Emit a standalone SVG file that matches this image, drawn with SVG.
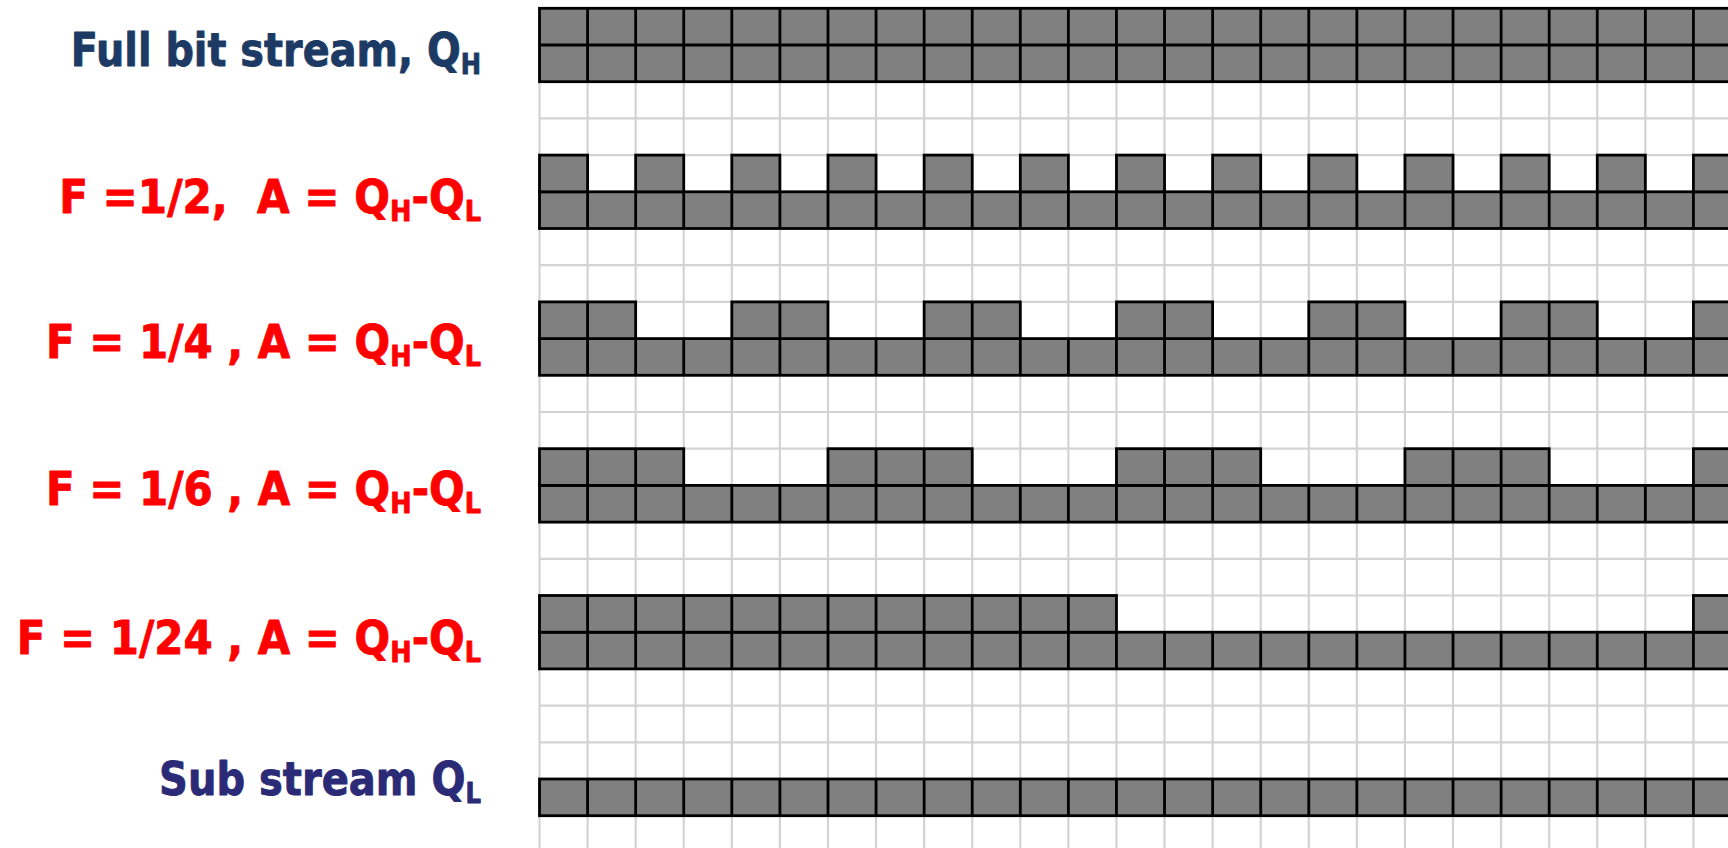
<svg xmlns="http://www.w3.org/2000/svg" xmlns:xlink="http://www.w3.org/1999/xlink" width="1728" height="848" viewBox="0 0 1728 848">
<style>
.grid{fill:none;stroke:#d3d3d3;stroke-width:2.2}
.cell{fill:#808080;stroke:#000;stroke-width:2.8}
.div{fill:none;stroke:#000;stroke-width:2.8}
.lbl{font-family:"DejaVu Sans","Liberation Sans",sans-serif;font-weight:bold;font-size:46px;text-anchor:end;white-space:pre;stroke-width:0.9;stroke-linejoin:round}
.sub{font-size:28px}
.red{fill:#ff0000;stroke:#ff0000}
.navy{fill:#1c3a63;stroke:#1c3a63}
.indigo{fill:#2a2a76;stroke:#2a2a76}
</style>
<defs>
<path id="divs" class="div" d="M587.58 0v36.7M635.66 0v36.7M683.74 0v36.7M731.82 0v36.7M779.9 0v36.7M827.98 0v36.7M876.06 0v36.7M924.14 0v36.7M972.22 0v36.7M1020.3 0v36.7M1068.38 0v36.7M1116.46 0v36.7M1164.54 0v36.7M1212.62 0v36.7M1260.7 0v36.7M1308.78 0v36.7M1356.86 0v36.7M1404.94 0v36.7M1453.02 0v36.7M1501.1 0v36.7M1549.18 0v36.7M1597.26 0v36.7M1645.34 0v36.7M1693.42 0v36.7"/>
</defs>
<rect width="1728" height="848" fill="#fff"/>
<g id="grid">
<path class="grid" d="M539.5 8.3V848M587.58 8.3V848M635.66 8.3V848M683.74 8.3V848M731.82 8.3V848M779.9 8.3V848M827.98 8.3V848M876.06 8.3V848M924.14 8.3V848M972.22 8.3V848M1020.3 8.3V848M1068.38 8.3V848M1116.46 8.3V848M1164.54 8.3V848M1212.62 8.3V848M1260.7 8.3V848M1308.78 8.3V848M1356.86 8.3V848M1404.94 8.3V848M1453.02 8.3V848M1501.1 8.3V848M1549.18 8.3V848M1597.26 8.3V848M1645.34 8.3V848M1693.42 8.3V848M539.5 8.3H1728M539.5 45H1728M539.5 81.7H1728M539.5 118.4H1728M539.5 155.1H1728M539.5 191.8H1728M539.5 228.5H1728M539.5 265.2H1728M539.5 301.9H1728M539.5 338.6H1728M539.5 375.3H1728M539.5 412H1728M539.5 448.7H1728M539.5 485.4H1728M539.5 522.1H1728M539.5 558.8H1728M539.5 595.5H1728M539.5 632.2H1728M539.5 668.9H1728M539.5 705.6H1728M539.5 742.3H1728M539.5 779H1728M539.5 815.7H1728"/>
</g>
<g id="band-full">
<rect class="cell" x="539.5" y="8.3" width="1210" height="73.4"/>
<path class="div" d="M539.5 45H1728"/>
<use xlink:href="#divs" href="#divs" y="8.3"/>
<use xlink:href="#divs" href="#divs" y="45"/>
</g>
<g id="band-half">
<rect class="cell" x="539.5" y="191.8" width="1210" height="36.7"/>
<use xlink:href="#divs" href="#divs" y="191.8"/>
<rect class="cell" x="539.5" y="155.1" width="48.08" height="36.7"/>
<rect class="cell" x="635.66" y="155.1" width="48.08" height="36.7"/>
<rect class="cell" x="731.82" y="155.1" width="48.08" height="36.7"/>
<rect class="cell" x="827.98" y="155.1" width="48.08" height="36.7"/>
<rect class="cell" x="924.14" y="155.1" width="48.08" height="36.7"/>
<rect class="cell" x="1020.3" y="155.1" width="48.08" height="36.7"/>
<rect class="cell" x="1116.46" y="155.1" width="48.08" height="36.7"/>
<rect class="cell" x="1212.62" y="155.1" width="48.08" height="36.7"/>
<rect class="cell" x="1308.78" y="155.1" width="48.08" height="36.7"/>
<rect class="cell" x="1404.94" y="155.1" width="48.08" height="36.7"/>
<rect class="cell" x="1501.1" y="155.1" width="48.08" height="36.7"/>
<rect class="cell" x="1597.26" y="155.1" width="48.08" height="36.7"/>
<rect class="cell" x="1693.42" y="155.1" width="48.08" height="36.7"/>
</g>
<g id="band-quarter">
<rect class="cell" x="539.5" y="338.6" width="1210" height="36.7"/>
<use xlink:href="#divs" href="#divs" y="338.6"/>
<rect class="cell" x="539.5" y="301.9" width="96.16" height="36.7"/>
<rect class="cell" x="731.82" y="301.9" width="96.16" height="36.7"/>
<rect class="cell" x="924.14" y="301.9" width="96.16" height="36.7"/>
<rect class="cell" x="1116.46" y="301.9" width="96.16" height="36.7"/>
<rect class="cell" x="1308.78" y="301.9" width="96.16" height="36.7"/>
<rect class="cell" x="1501.1" y="301.9" width="96.16" height="36.7"/>
<rect class="cell" x="1693.42" y="301.9" width="96.16" height="36.7"/>
<path class="div" d="M587.58 301.9v36.7M779.9 301.9v36.7M972.22 301.9v36.7M1164.54 301.9v36.7M1356.86 301.9v36.7M1549.18 301.9v36.7"/>
</g>
<g id="band-sixth">
<rect class="cell" x="539.5" y="485.4" width="1210" height="36.7"/>
<use xlink:href="#divs" href="#divs" y="485.4"/>
<rect class="cell" x="539.5" y="448.7" width="144.24" height="36.7"/>
<rect class="cell" x="827.98" y="448.7" width="144.24" height="36.7"/>
<rect class="cell" x="1116.46" y="448.7" width="144.24" height="36.7"/>
<rect class="cell" x="1404.94" y="448.7" width="144.24" height="36.7"/>
<rect class="cell" x="1693.42" y="448.7" width="144.24" height="36.7"/>
<path class="div" d="M587.58 448.7v36.7M635.66 448.7v36.7M876.06 448.7v36.7M924.14 448.7v36.7M1164.54 448.7v36.7M1212.62 448.7v36.7M1453.02 448.7v36.7M1501.1 448.7v36.7"/>
</g>
<g id="band-24th">
<rect class="cell" x="539.5" y="632.2" width="1210" height="36.7"/>
<use xlink:href="#divs" href="#divs" y="632.2"/>
<rect class="cell" x="539.5" y="595.5" width="576.96" height="36.7"/>
<rect class="cell" x="1693.42" y="595.5" width="48.08" height="36.7"/>
<path class="div" d="M587.58 595.5v36.7M635.66 595.5v36.7M683.74 595.5v36.7M731.82 595.5v36.7M779.9 595.5v36.7M827.98 595.5v36.7M876.06 595.5v36.7M924.14 595.5v36.7M972.22 595.5v36.7M1020.3 595.5v36.7M1068.38 595.5v36.7"/>
</g>
<g id="band-sub">
<rect class="cell" x="539.5" y="779" width="1210" height="36.7"/>
<use xlink:href="#divs" href="#divs" y="779"/>
</g>
<g id="label-full">
<text class="lbl navy" transform="translate(481 66) scale(0.865 1)">Full bit stream, Q<tspan class="sub" dy="8">H</tspan></text>
</g>
<g id="label-half">
<text class="lbl red" transform="translate(481 213) scale(0.915 1)">F =1/2,  A = Q<tspan class="sub" dy="8">H</tspan><tspan dy="-8">-Q</tspan><tspan class="sub" dy="8">L</tspan></text>
</g>
<g id="label-quarter">
<text class="lbl red" transform="translate(481 358) scale(0.912 1)">F = 1/4 , A = Q<tspan class="sub" dy="8">H</tspan><tspan dy="-8">-Q</tspan><tspan class="sub" dy="8">L</tspan></text>
</g>
<g id="label-sixth">
<text class="lbl red" transform="translate(481 505) scale(0.912 1)">F = 1/6 , A = Q<tspan class="sub" dy="8">H</tspan><tspan dy="-8">-Q</tspan><tspan class="sub" dy="8">L</tspan></text>
</g>
<g id="label-24th">
<text class="lbl red" transform="translate(481 654) scale(0.912 1)">F = 1/24 , A = Q<tspan class="sub" dy="8">H</tspan><tspan dy="-8">-Q</tspan><tspan class="sub" dy="8">L</tspan></text>
</g>
<g id="label-sub">
<text class="lbl indigo" transform="translate(481 795) scale(0.87 1)">Sub stream Q<tspan class="sub" dy="8">L</tspan></text>
</g>
</svg>
